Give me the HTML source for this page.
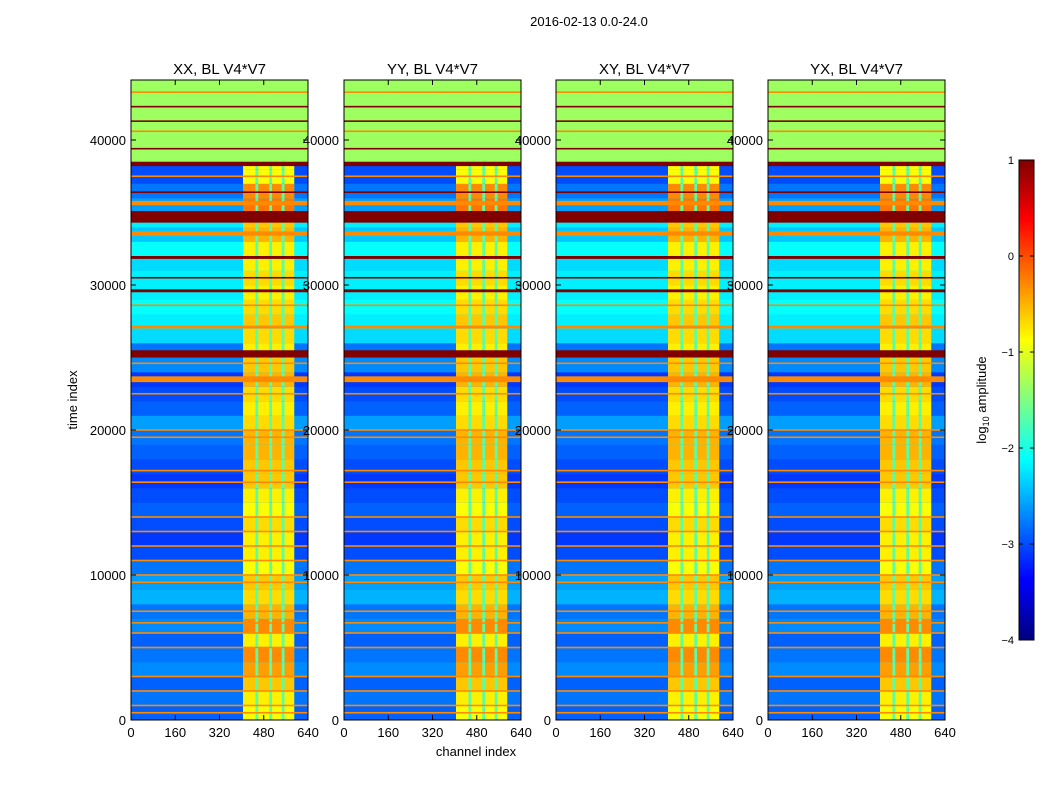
<!DOCTYPE html>
<html><head><meta charset="utf-8"><style>
body{margin:0;background:#fff;font-family:"Liberation Sans",sans-serif;}
svg text{font-family:"Liberation Sans",sans-serif;}
</style></head><body>
<svg id="fig" width="1050" height="800" xmlns="http://www.w3.org/2000/svg">
<rect width="1050" height="800" fill="#fff"/>
<text x="589" y="26" font-size="13" text-anchor="middle">2016-02-13 0.0-24.0</text>
<text x="77" y="400" font-size="13" text-anchor="middle" transform="rotate(-90 77 400)">time index</text>
<text x="476" y="756" font-size="13" text-anchor="middle">channel index</text>
<g id="panels"></g>
<g id="cbar"></g>
<text x="986" y="400" font-size="13" text-anchor="middle" transform="rotate(-90 986 400)">log<tspan font-size="9" dy="3">10</tspan><tspan dy="-3"> amplitude</tspan></text>
</svg>
<script>
const panelTitles=["XX, BL V4*V7","YY, BL V4*V7","XY, BL V4*V7","YX, BL V4*V7"];
const yTicks=[0,10000,20000,30000,40000];
const xTicks=[0,160,320,480,640];
const cbTicks=[1,0,-1,-2,-3,-4];
// base amplitude per 1000 time steps (0..38999)
const rowBase=[-2.9,-2.8,-2.9,-2.7,-2.8,-2.9,-2.7,-2.8,-2.5,-2.6,-2.8,-3.0,-3.1,-3.0,-2.9,-3.0,-3.1,-3.0,-2.9,-2.8,-2.6,-2.9,-3.0,-3.1,-2.7,-2.8,-2.3,-2.2,-2.1,-2.2,-2.2,-2.3,-2.1,-2.4,-2.2,-2.6,-2.8,-3.0,-3.0];
const rfiLevel=[-0.9,-0.8,-0.6,-0.4,-0.3,-0.8,-0.3,-0.5,-0.7,-0.6,-0.9,-0.8,-0.8,-0.7,-0.9,-0.8,-0.6,-0.6,-0.5,-0.5,-0.7,-0.8,-0.7,-0.5,-0.6,-0.8,-0.7,-0.6,-0.7,-0.8,-0.7,-0.8,-0.8,-0.5,-0.6,-0.2,-0.3,-0.9,-0.9];
const rfiChannels=[[405,450],[460,500],[510,545],[555,590]];
const gapLevel=-1.7;
const bandStart=[38500,34300,35500,33400,25000,23300,29500,31800,27000,38200];
const bandEnd=[44138,35100,35800,33700,25500,23700,29700,32000,27200,38500];
const bandValue=[-1.35,1,-0.3,-0.3,1,-0.3,1,1,-0.3,1];
const lineTime=[43300,42300,41300,40600,39400,37500,36400,30500,28600,24600,22500,20000,19500,17200,16400,14000,13000,12000,11000,10000,9500,7500,6700,6000,5000,3000,2000,1000,500];
const lineValue=[-0.3,1,1,-0.3,1,-0.3,1,1,-0.3,-0.3,-0.3,-0.3,-0.3,-0.3,-0.3,-0.3,-0.3,-0.3,-0.3,-0.3,-0.3,-0.3,-0.3,-0.3,-0.3,-0.3,-0.3,-0.3,-0.3];

const NS="http://www.w3.org/2000/svg";
function jet(v){let t=(v+4)/5;t=Math.max(0,Math.min(1,t));
 const f=x=>Math.round(255*Math.max(0,Math.min(1,x)));
 return `rgb(${f(1.5-Math.abs(4*t-3))},${f(1.5-Math.abs(4*t-2))},${f(1.5-Math.abs(4*t-1))})`;}
function mk(tag,attrs,parent){const e=document.createElementNS(NS,tag);for(const k in attrs)e.setAttribute(k,attrs[k]);parent.appendChild(e);return e;}
const PX=[131,344,556,768],PW=177,PY=80,PH=640,TMAX=44138;
const ys=t=>PY+PH-t/TMAX*PH;
const panels=document.getElementById('panels');
PX.forEach((x0,pi)=>{
 const xs=c=>x0+c/640*PW;
 const g=mk('g',{},panels);
 
 
 rowBase.forEach((b,r)=>{
  const t0=r*1000,t1=Math.min(38500,(r+1)*1000);
  const bg=mk('rect',{x:xs(0),y:ys(t1),width:PW,height:ys(t0)-ys(t1)+0.3,fill:jet(b)},g);
  
  
  const gp=mk('rect',{x:xs(rfiChannels[0][0]),y:ys(t1),width:xs(rfiChannels[3][1])-xs(rfiChannels[0][0]),height:ys(t0)-ys(t1)+0.3,fill:jet(gapLevel)},g);
  
  
  rfiChannels.forEach(([c0,c1])=>{
   const c=mk('rect',{x:xs(c0),y:ys(t1),width:xs(c1)-xs(c0),height:ys(t0)-ys(t1)+0.3,fill:jet(rfiLevel[r])},g);
   
   
  });
 });
 bandStart.forEach((s,i)=>{
  const b=mk('rect',{x:xs(0),y:ys(bandEnd[i]),width:PW,height:ys(s)-ys(bandEnd[i]),fill:jet(bandValue[i])},g);
  
  
 });
 lineTime.forEach((t,i)=>{
  const l=mk('rect',{x:xs(0),y:ys(t)-0.8,width:PW,height:1.6,fill:jet(lineValue[i])},g);
  
  
 });
 const fr=mk('rect',{x:x0,y:PY,width:PW,height:PH,fill:'none',stroke:'#000','stroke-width':1},g);
 
 
 const tt=mk('text',{x:x0+PW/2,y:74,'font-size':15,'text-anchor':'middle'},g);
 tt.textContent=panelTitles[pi];
 
 
 yTicks.forEach(v=>{
  const y=ys(v);
  mk('line',{x1:x0,x2:x0+5,y1:y,y2:y,stroke:'#000'},g);
  mk('line',{x1:x0+PW,x2:x0+PW-5,y1:y,y2:y,stroke:'#000'},g);
  const lt=mk('text',{x:x0-5,y:y+5,'font-size':13,'text-anchor':'end'},g);
  lt.textContent=v;
  
  
 });
 xTicks.forEach(v=>{
  const x=xs(v);
  mk('line',{x1:x,x2:x,y1:PY+PH,y2:PY+PH-5,stroke:'#000'},g);
  mk('line',{x1:x,x2:x,y1:PY,y2:PY+5,stroke:'#000'},g);
  const lt=mk('text',{x:x,y:PY+PH+17,'font-size':13,'text-anchor':'middle'},g);
  lt.textContent=v;
  
  
 });
});
const cb=document.getElementById('cbar');
const CX=1019,CW=15,CY=160,CH=480;
const cy=v=>CY+(1-v)/5*CH;
for(let i=0;i<240;i++){const v=1-i/240*5;mk('rect',{x:CX,y:CY+i*2,width:CW,height:2.3,fill:jet(v-0.01)},cb);}
mk('rect',{x:CX,y:CY,width:CW,height:CH,fill:'none',stroke:'#000'},cb);
cbTicks.forEach(v=>{
 mk('line',{x1:CX,x2:CX+4,y1:cy(v),y2:cy(v),stroke:'#000'},cb);
 mk('line',{x1:CX+CW,x2:CX+CW-4,y1:cy(v),y2:cy(v),stroke:'#000'},cb);
 const t=mk('text',{x:CX-5,y:cy(v)+4,'font-size':11,'text-anchor':'end'},cb);
 t.textContent=v<0?'\u2212'+(-v):String(v);
 
 
});
</script>
</body></html>
